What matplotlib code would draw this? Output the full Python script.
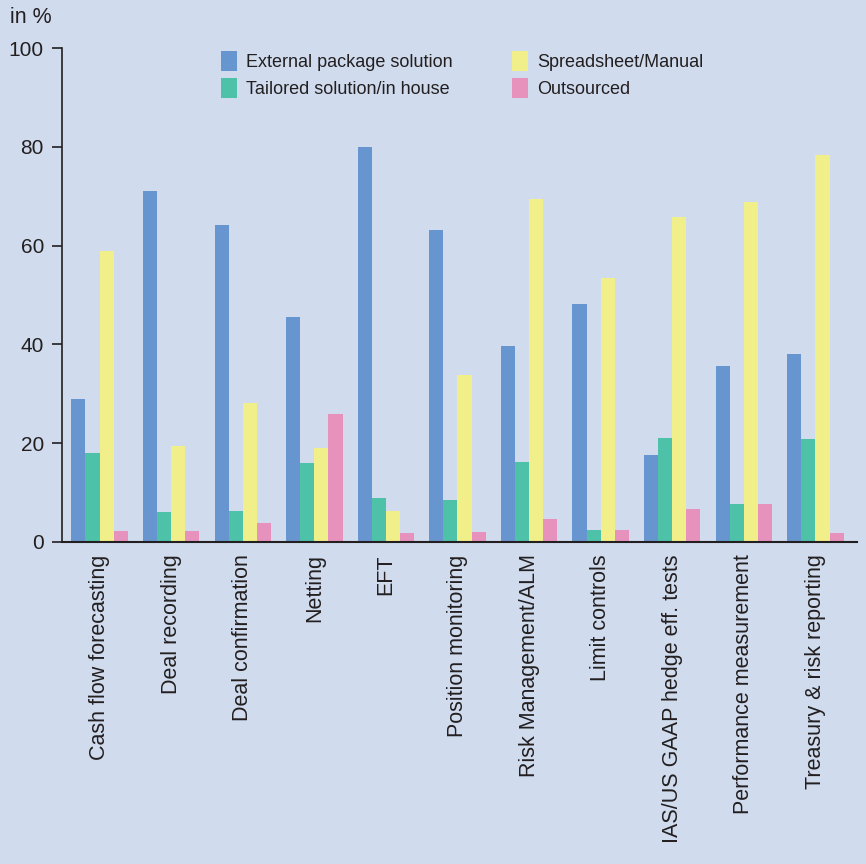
import numpy as np
import matplotlib.pyplot as plt

plt.rcParams['font.family'] = ['Liberation Sans', 'DejaVu Sans']

categories = ["Cash flow forecasting", "Deal recording", "Deal confirmation", "Netting",
              "EFT", "Position monitoring", "Risk Management/ALM", "Limit controls",
              "IAS/US GAAP hedge eff. tests", "Performance measurement",
              "Treasury & risk reporting"]
external = [29.0, 71.1, 64.2, 45.6, 80.0, 63.2, 39.7, 48.2, 17.6, 35.6, 38.0]
tailored = [18.0, 6.1, 6.3, 16.0, 8.9, 8.5, 16.2, 2.4, 21.1, 7.7, 20.9]
spreadsheet = [58.9, 19.5, 28.2, 19.1, 6.3, 33.8, 69.4, 53.5, 65.8, 68.8, 78.3]
outsourced = [2.2, 2.2, 3.8, 25.9, 1.8, 2.0, 4.7, 2.4, 6.7, 7.7, 1.8]
series_names = ["External package solution", "Tailored solution/in house",
                "Spreadsheet/Manual", "Outsourced"]
colors = ["#6795cf", "#4dc2a9", "#f1ef8a", "#e791bd"]
bg = "#d0dcee"
ink = "#231f20"

fig = plt.figure(figsize=(8.66, 8.64), dpi=100, facecolor=bg)
ax = fig.add_axes([0.0716, 0.3727, 0.918, 0.5717], facecolor=bg)

x = np.arange(len(categories))
w = 0.197
for i, vals in enumerate([external, tailored, spreadsheet, outsourced]):
    ax.bar(x + (i - 1.5) * w, vals, w, color=colors[i], label=series_names[i], zorder=2)

ax.set_xlim(-0.524, 10.58)
ax.set_ylim(0, 100)
ax.set_yticks([0, 20, 40, 60, 80, 100])
ax.tick_params(axis='y', length=7, width=1.2, color=ink, labelsize=15,
               labelcolor=ink, pad=6)
ax.set_xticks(x)
ax.set_xticklabels(categories, rotation=90, fontsize=15.5, color=ink)
ax.tick_params(axis='x', length=0, pad=9)
for s in ['top', 'right']:
    ax.spines[s].set_visible(False)
ax.spines['left'].set_linewidth(1.2)
ax.spines['left'].set_color(ink)
ax.spines['bottom'].set_linewidth(1.5)
ax.spines['bottom'].set_color(ink)

fig.text(0.011, 0.980, "in %", fontsize=15.5, color=ink, va='center', ha='left')

leg = ax.legend(ncol=2, loc='upper left', bbox_to_anchor=(221 / 866, 1 - 51 / 864),
                bbox_transform=fig.transFigure, frameon=False, fontsize=13,
                handlelength=0.89, handleheight=1.3, handletextpad=0.5,
                columnspacing=3.27, labelspacing=0.4, borderpad=0, borderaxespad=0)
for t in leg.get_texts():
    t.set_color(ink)

fig.savefig("out.png", dpi=100, facecolor=bg)
